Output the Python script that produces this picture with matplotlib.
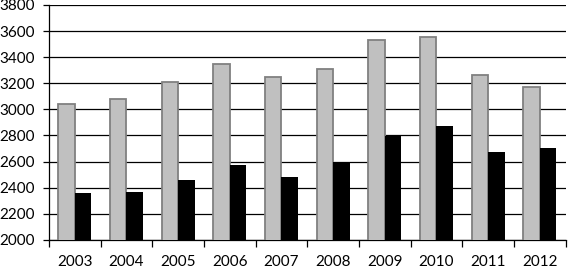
import matplotlib.pyplot as plt
import numpy as np

years = ['2003', '2004', '2005', '2006', '2007', '2008', '2009', '2010', '2011', '2012']
gray_vals = [3040, 3080, 3210, 3350, 3250, 3310, 3530, 3555, 3260, 3170]
black_vals = [2360, 2370, 2460, 2570, 2480, 2600, 2795, 2875, 2675, 2705]

plt.rcParams['font.family'] = ['Lato', 'DejaVu Sans']

fig = plt.figure(figsize=(5.69, 2.72), dpi=100)
ax = fig.add_axes([0.086, 0.118, 0.908, 0.864])

x = np.arange(len(years))
w = 0.32
ax.bar(x - w / 2, gray_vals, w, color='#c0c0c0', edgecolor='#808080', linewidth=1.3, zorder=3)
ax.bar(x + w / 2, black_vals, w, color='black', zorder=3)

ax.set_ylim(2000, 3800)
ax.set_xlim(-0.5, len(years) - 0.5)
ax.set_yticks(np.arange(2000, 3801, 200))
ax.yaxis.grid(True, color='black', linewidth=0.9, zorder=0)

ax.set_xticks(x)
ax.set_xticklabels(years, fontsize=11)
ax.set_xticks(np.arange(-0.5, len(years), 1), minor=True)
ax.tick_params(axis='x', which='major', length=0, pad=11)
ax.tick_params(axis='x', which='minor', length=5, width=0.9, direction='out')
ax.tick_params(axis='y', labelsize=11, length=4, width=0.9, pad=6)

for s in ['top', 'right']:
    ax.spines[s].set_visible(False)
ax.spines['left'].set_linewidth(0.9)
ax.spines['bottom'].set_linewidth(0.9)

fig.savefig('out.png', dpi=100)
